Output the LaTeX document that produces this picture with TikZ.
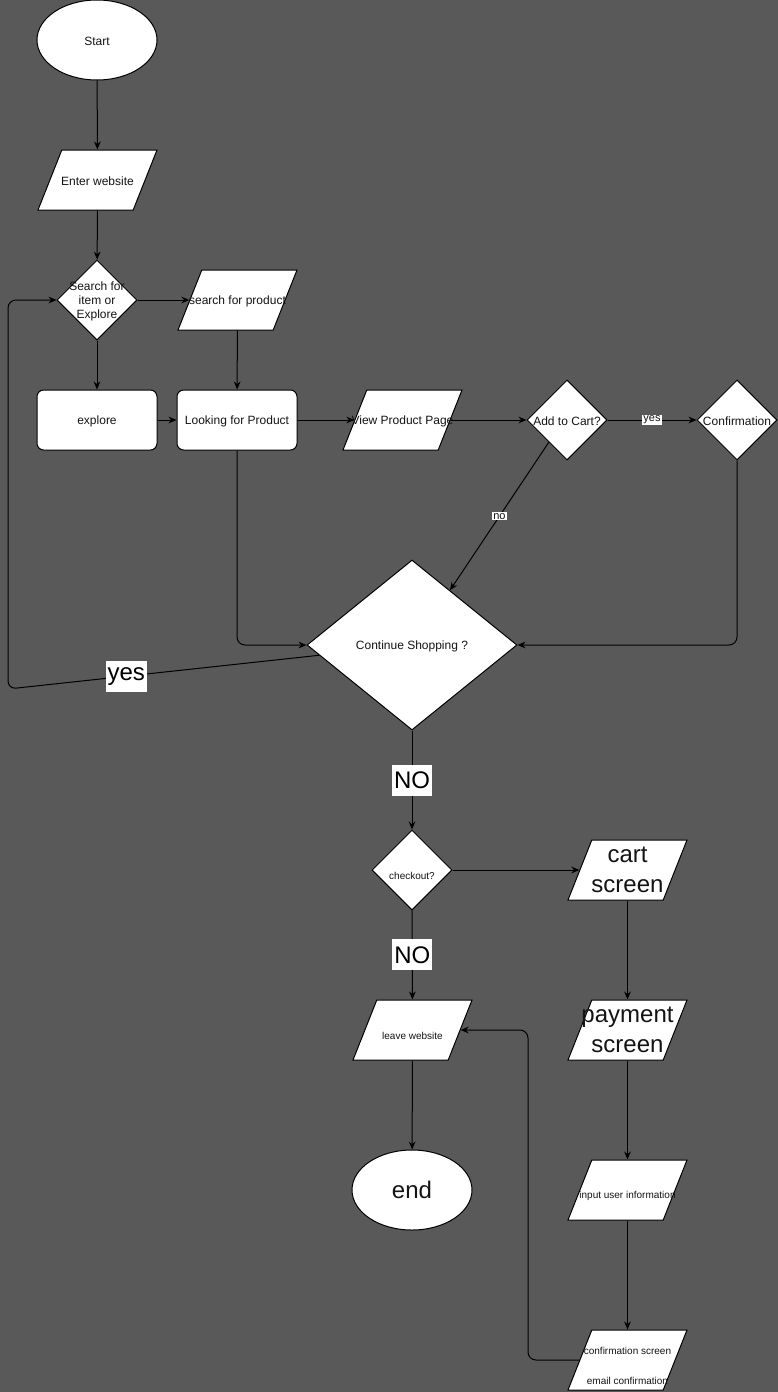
\documentclass[tikz,border=0pt]{standalone}
\usepackage{fontspec}
\setmainfont{Liberation Sans}
\usetikzlibrary{shapes.geometric,arrows.meta,calc}
\definecolor{canvas}{RGB}{89,89,89}
\definecolor{ink}{RGB}{20,20,20}

\begin{document}
\begin{tikzpicture}[x=0.75pt,y=-0.75pt,
  box/.style={draw=black, fill=white, line width=0.75pt},
  term/.style={box, ellipse, minimum width=90pt, minimum height=60pt, inner sep=0pt},
  io/.style={box, trapezium, trapezium left angle=71.57, trapezium right angle=108.43,
    trapezium stretches=true, minimum width=89.25pt, minimum height=45pt, inner sep=2pt},
  proc/.style={box, rounded corners=5pt, minimum width=90pt, minimum height=45pt, inner sep=0pt},
  dec/.style={box, diamond, minimum width=60pt, minimum height=60pt, inner sep=2pt},
  txt/.style={font=\fontsize{9pt}{10.5pt}\selectfont, text=ink, align=center, inner sep=0pt, yshift=-1pt},
  small/.style={font=\fontsize{7.5pt}{9pt}\selectfont, text=ink, align=center, inner sep=0pt},
  large/.style={font=\fontsize{18pt}{23pt}\selectfont, text=ink, align=center, inner sep=0pt},
  arr/.style={draw=black, line width=0.75pt, -{Stealth[length=6pt,width=5pt]}},
  elbl/.style={fill=white, text=ink, font=\fontsize{8.25pt}{9pt}\selectfont, inner sep=0.75pt, sharp corners},
  biglbl/.style={fill=white, text=black, font=\fontsize{18pt}{20pt}\selectfont,
    inner xsep=1.5pt, inner ysep=0pt, minimum height=23.25pt, sharp corners},
]
\useasboundingbox (0,0) rectangle (778,1392);
\fill[canvas] (0,0) rectangle (778,1392);

% --- shapes ---
\node[term] (start) at (97,40) {};
\node[io] (enter) at (97.5,180) {};
\node[dec] (srch) at (97,300) {};
\node[io] (sfp) at (237.5,300) {};
\node[proc] (explore) at (97,420) {};
\node[proc] (look) at (237,420) {};
\node[io] (vpp) at (402.5,420) {};
\node[dec] (add) at (567,420) {};
\node[dec] (conf) at (737,420) {};
\node[dec, minimum width=157.5pt, minimum height=127.5pt] (cont) at (412,645) {};
\node[dec] (chk) at (412,870) {};
\node[io] (cart) at (627.5,870) {};
\node[io] (leave) at (412.5,1030) {};
\node[io] (pay) at (627.5,1030) {};
\node[term] (end) at (412,1190) {};
\node[io] (input) at (627.5,1190) {};
\node[io] (confs) at (627.5,1360) {};

% --- texts ---
\node[txt] (start-t) at (start) {Start};
\node[txt] (enter-t) at (enter) {Enter website};
\node[txt] (srch-t) at (srch) {Search for\\item or\\Explore};
\node[txt] (sfp-t) at (sfp) {search for product};
\node[txt] (explore-t) at (explore) {explore};
\node[txt] (look-t) at (look) {Looking for Product};
\node[txt] (vpp-t) at (vpp) {View Product Page};
\node[txt] (add-t) at (add) {Add to Cart?};
\node[txt] (conf-t) at (conf) {Confirmation};
\node[txt] (cont-t) at (cont) {Continue Shopping ?};
\node[small, yshift=-4.5pt] (chk-t) at (chk) {checkout?};
\node[large] (cart-t) at (cart) {cart\\screen};
\node[small, yshift=-4.5pt] (leave-t) at (leave) {leave website};
\node[large] (pay-t) at (pay) {payment\\screen};
\node[large] (end-t) at (end) {end};
\node[small, yshift=-4.5pt] (input-t) at (input) {input user information};
\node[small, yshift=-4.5pt] (confs-t) at (confs) {confirmation screen\\[13.5pt]email confirmation};

% --- bend points ---
\coordinate (loopA) at (8,689);
\coordinate (retA) at (528,1360);

% --- connectors ---
\draw[arr] (start) -- (enter);
\draw[arr] (enter) -- (srch);
\draw[arr] (srch) -- (sfp);
\draw[arr] (srch) -- (explore);
\draw[arr] (sfp) -- (look);
\draw[arr] (explore) -- (look);
\draw[arr] (look) -- (vpp);
\draw[arr] (vpp) -- (add);
\draw[arr] (add) -- node[elbl]{yes} (conf);
\draw[arr] ($(add.west)!0.55!(add.south)$) -- node[elbl]{no} ($(cont.north)!0.36!(cont.east)$);
\draw[arr, rounded corners=6pt] (conf.south) |- (cont.east);
\draw[arr, rounded corners=6pt] (look.south) |- (cont.west);
\draw[arr, rounded corners=6pt] ($(cont.west)!0.12!(cont.south)$) -- node[biglbl, pos=0.62]{yes} (loopA) -- (loopA |- srch.west) -- (srch.west);
\draw[arr] (cont) -- node[biglbl]{NO} (chk);
\draw[arr] (chk) -- (cart);
\draw[arr] (chk) -- node[biglbl]{NO} (leave);
\draw[arr] (cart) -- (pay);
\draw[arr] (pay) -- (input);
\draw[arr] (input) -- (confs);
\draw[arr] (leave) -- (end);
\draw[arr, rounded corners=6pt] (confs.left side) -- (retA) |- (leave.right side);
\end{tikzpicture}
\end{document}
